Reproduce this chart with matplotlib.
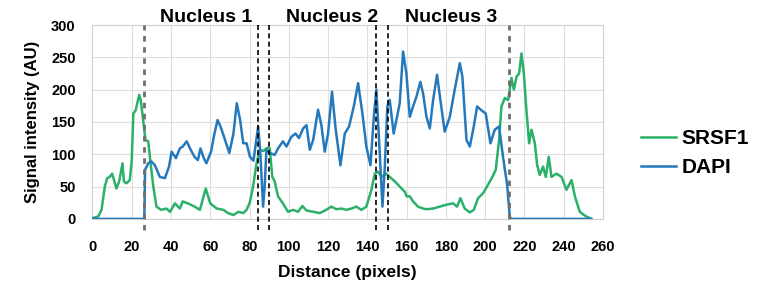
import matplotlib
matplotlib.use('Agg')
import matplotlib.pyplot as plt

plt.rcParams['font.family'] = ['Liberation Sans', 'DejaVu Sans']
plt.rcParams['font.weight'] = 'bold'

# SRSF1 profile (green)
srsf1_x = [0, 3, 4.6, 6.3, 7.5, 8.8, 10, 11, 12.2, 13.6, 15.3, 16, 17.3, 19, 20, 20.8, 22, 23.8, 24.6,
           25.8, 27, 28.4, 29.6, 31, 32.6, 35, 37.7, 39.5, 42, 44.5, 46, 48.6, 52, 54.7, 57.7, 60,
           63.3, 66.7, 69, 71.8, 74.3, 76.8, 78.5, 80.2, 81.8, 83.5, 85.2, 87, 89, 90.3, 91.6, 92.8,
           94.5, 97, 99.6, 102.2, 104.7, 106.9, 109, 112.4, 115.8, 119, 121.7, 124.2, 126.8, 129.3,
           131.9, 134.4, 137, 139.5, 142.1, 143.8, 145.5, 147.2, 149.7, 151.4, 154, 156.5, 159.1,
           160, 161.6, 163.3, 165.8, 168.4, 170.1, 173.5, 176.9, 180.3, 183.7, 185.7, 187.4, 189.6,
           192.2, 194.2, 196.4, 199, 201.5, 203.7, 205.4, 207.1, 208.3, 210, 211.7, 213.4, 214.6,
           216, 217.3, 218.5, 219.7, 221, 222.4, 223.6, 225.3, 226.5, 227.8, 229.5, 230.9, 232.4,
           233.8, 236.3, 238.9, 241.4, 244, 245.7, 248.2, 250.8, 254]
srsf1_y = [1, 4, 14, 50, 63, 65, 70, 60, 47, 58, 86, 58, 55, 60, 90, 163, 168, 192, 184,
           153, 122, 120, 86, 50, 19, 14, 16, 11, 24, 16, 27, 24, 19, 14, 47, 24,
           16, 14, 9, 6, 11, 9, 14, 26, 50, 85, 107, 105, 110, 109, 65, 58,
           35, 24, 11, 14, 11, 20, 13, 11, 9, 14, 19, 15, 16, 14,
           16, 19, 14, 19, 45, 70, 73, 65, 70, 65, 58, 50, 42,
           35, 35, 27, 19, 16, 15, 16, 19, 22, 24, 19, 32, 16,
           10, 14, 32, 40, 53, 65, 76, 122, 174, 187, 184, 218, 200,
           220, 225, 256, 225, 169, 117, 138, 117, 83, 68, 81, 65, 96,
           65, 70, 65, 45, 60, 35, 11, 5, 0]

# DAPI profile (blue)
dapi_x = [0, 26.4, 26.8, 28.4, 30, 31.8, 34.3, 36.9, 39, 40.3, 42.5, 44.5, 46, 48, 50, 52, 53.7, 55,
          56.7, 58, 60.4, 62, 63.7, 65.2, 67, 69.7, 71.8, 73.5, 75.2, 76.8, 78.5, 80.2, 82, 84.4,
          85.5, 86.9, 87.7, 88.6, 90.3, 92.8, 94.5, 97, 98.8, 101.3, 103.4, 105.2, 107.3, 109,
          110.7, 112.4, 114.9, 116.6, 118.3, 120, 122, 123.9, 126.3, 128.5, 130.7, 133.1, 135.3,
          137.5, 139.5, 141.6, 143.3, 144.6, 146.3, 147.7, 148.9, 150.2, 151.4, 153.4, 154.8,
          156.5, 158.2, 159.9, 161.6, 163.3, 165, 167, 168.4, 170.1, 171.8, 173.5, 175.5, 177.2,
          179.4, 182, 184.5, 187.1, 188.4, 190.5, 192.2, 194.2, 195.9, 198.1, 200.3, 202.7,
          204.9, 207.1, 209.1, 211.2, 212.5, 213.2, 254]
dapi_y = [0, 0, 76, 86, 89, 83, 65, 63, 81, 104, 94, 109, 112, 120, 107, 96, 91, 109,
          94, 86, 104, 130, 153, 143, 127, 102, 132, 179, 153, 117, 117, 96, 90, 143,
          102, 19, 50, 107, 102, 99, 109, 120, 112, 127, 132, 125, 140, 145,
          107, 122, 169, 145, 104, 132, 197, 138, 83, 132, 143, 174, 210,
          163, 112, 83, 158, 200, 102, 19, 81, 174, 184, 132, 153,
          179, 259, 225, 158, 174, 189, 212, 194, 158, 140, 184, 223, 184,
          135, 158, 200, 241, 220, 122, 112, 143, 174, 168, 163, 117,
          138, 143, 96, 53, 4, 0, 0]

# nucleus boundaries
outer_bounds = [26.5, 212]
inner_bounds = [84.5, 90, 144.5, 150.5]
nuc_labels = ['Nucleus 1', 'Nucleus 2', 'Nucleus 3']
nuc_centers = [58, 122, 182.5]

green = '#2bb06a'
blue = '#2479bd'

fig = plt.figure(figsize=(7.77, 2.81), dpi=100)
ax = fig.add_axes([0.119, 0.221, 0.657, 0.69])

ax.plot(srsf1_x, srsf1_y, color=green, lw=1.8, label='SRSF1', zorder=3, solid_joinstyle='round')
ax.plot(dapi_x, dapi_y, color=blue, lw=1.8, label='DAPI', zorder=3, solid_joinstyle='round')

for xb in outer_bounds:
    ax.plot([xb, xb], [-17, 300], color='#6e6e6e', lw=2, ls=(0, (2, 2)), clip_on=False, zorder=4)
for xb in inner_bounds:
    ax.plot([xb, xb], [-17, 300], color='black', lw=1.2, ls=(0, (3, 2)), clip_on=False, zorder=4)

for lab, xc in zip(nuc_labels, nuc_centers):
    ax.text(xc, 312, lab, ha='center', va='center', fontsize=14, fontweight='bold')

ax.set_xlim(0, 260)
ax.set_ylim(0, 300)
ax.set_xticks(range(0, 261, 20))
ax.set_yticks(range(0, 301, 50))
ax.tick_params(axis='x', length=0, labelsize=10.5, pad=15)
ax.tick_params(axis='y', length=0, labelsize=10.5, pad=12)
for t in ax.get_xticklabels() + ax.get_yticklabels():
    t.set_fontweight('bold')
ax.grid(True, color='#dedede', lw=0.8)
ax.set_axisbelow(True)
for s in ax.spines.values():
    s.set_color('#d0d0d0')

ax.set_xlabel('Distance (pixels)', fontsize=12.5, fontweight='bold', labelpad=8)
ax.set_ylabel('Signal intensity (AU)', fontsize=12, fontweight='bold', labelpad=8)

fig.legend(loc='center left', bbox_to_anchor=(0.825, 0.455), frameon=False,
           prop={'size': 15, 'weight': 'bold'}, handlelength=1.7, handletextpad=0.25,
           labelspacing=0.5, borderpad=0, borderaxespad=0)

fig.savefig('out.png', dpi=100)
